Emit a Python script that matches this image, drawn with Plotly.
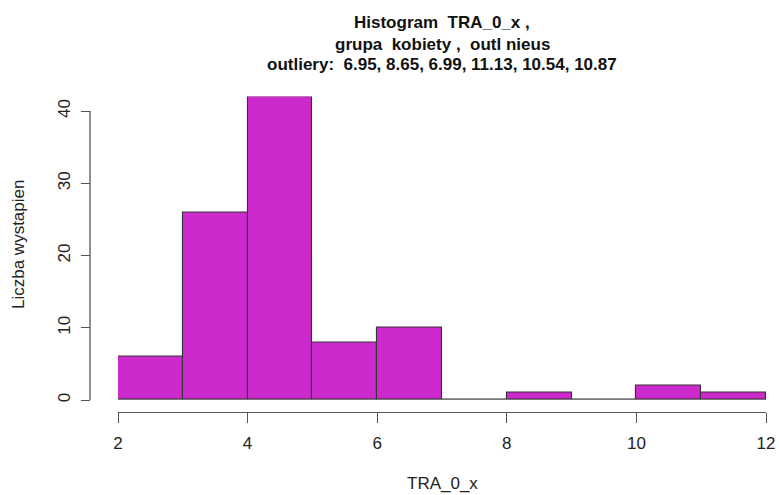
import plotly.graph_objects as go

bin_edges = [2, 3, 4, 5, 6, 7, 8, 9, 10, 11, 12]
counts = [6, 26, 42, 8, 10, 0, 1, 0, 2, 1]
x_ticks = [2, 4, 6, 8, 10, 12]
y_ticks = [0, 10, 20, 30, 40]
title_lines = ["Histogram  TRA_0_x ,", "grupa  kobiety ,  outl nieus",
               "outliery:  6.95, 8.65, 6.99, 11.13, 10.54, 10.87"]
x_title = "TRA_0_x"
y_title = "Liczba wystapien"

# page body margin is removed by the post script, so the figure fills the window
O = 0
WIN_W, WIN_H = 779, 495
W, H = WIN_W - O, WIN_H - O


def fx(px):  # window x pixel -> paper fraction
    return (px - O) / W


def fy(py):  # window y pixel -> paper fraction
    return (H - (py - O)) / H


centers = [(a + b) / 2 for a, b in zip(bin_edges[:-1], bin_edges[1:])]
widths = [b - a for a, b in zip(bin_edges[:-1], bin_edges[1:])]

FONT = "Liberation Sans, Arial, sans-serif"
FS = 17
fig = go.Figure()
fig.add_trace(go.Scatter(x=[bin_edges[0], bin_edges[-1]], y=[0, 0], mode="lines",
                         line=dict(color="#6e6e6e", width=1.3), hoverinfo="skip",
                         showlegend=False))
fig.add_trace(go.Bar(x=centers, y=counts, width=widths,
                     marker=dict(color="#CC2ACC", line=dict(color="#333333", width=1.1)),
                     showlegend=False))

px_x0, px_x1 = 118, 766
px_y0 = 400
ymax = 42
px_per = (400 - 111) / 40.0
px_ytop = px_y0 - ymax * px_per

fig.update_layout(
    width=W, height=H,
    margin=dict(l=0, r=0, t=0, b=0, autoexpand=False),
    paper_bgcolor="white", plot_bgcolor="white",
    font=dict(family=FONT, color="#222222", size=FS),
    xaxis=dict(domain=[fx(px_x0), fx(px_x1)], range=[bin_edges[0], bin_edges[-1]],
               anchor="free", position=fy(412),
               showgrid=False, zeroline=False, showline=True, linecolor="#555555", linewidth=1.3,
               ticks="outside", ticklen=10, tickwidth=1.3, tickcolor="#555555",
               tickvals=x_ticks, ticktext=[str(v) for v in x_ticks],
               ticklabelstandoff=5, ticklabeloverflow="allow",
               tickfont=dict(size=FS, family=FONT, color="#222222"),
               automargin=False),
    yaxis=dict(domain=[fy(px_y0), fy(px_ytop)], range=[0, ymax],
               anchor="free", position=fx(90),
               showgrid=False, zeroline=False, showline=False,
               ticks="outside", ticklen=9, tickwidth=1.3, tickcolor="#555555",
               tickvals=y_ticks, ticktext=[str(v) for v in y_ticks], tickangle=-90,
               ticklabelstandoff=4, tickfont=dict(size=FS, family=FONT, color="#222222"),
               automargin=False),
    shapes=[dict(type="line", xref="paper", yref="y", x0=fx(90), x1=fx(90),
                 y0=y_ticks[0], y1=y_ticks[-1], line=dict(color="#555555", width=1.3))],
    bargap=0,
)

annos = []
cx = fx((px_x0 + px_x1) / 2)
for i, t in enumerate(title_lines):
    annos.append(dict(text="<b>%s</b>" % t, x=cx, y=fy(23 + 21 * i), xref="paper", yref="paper",
                      showarrow=False, xanchor="center", yanchor="middle",
                      font=dict(size=FS, family=FONT, color="#111111")))
annos.append(dict(text=x_title, x=cx, y=fy(483), xref="paper", yref="paper",
                  showarrow=False, xanchor="center", yanchor="middle",
                  font=dict(size=FS, family=FONT, color="#222222")))
annos.append(dict(text=y_title, x=fx(19), y=fy(245), xref="paper", yref="paper",
                  showarrow=False, xanchor="center", yanchor="middle", textangle=-90,
                  font=dict(size=FS, family=FONT, color="#222222")))
fig.update_layout(annotations=annos)

fig.write_html("out.html",
               config={"displayModeBar": False},
               post_script="document.body.style.margin='0';document.body.style.overflow='hidden';")
